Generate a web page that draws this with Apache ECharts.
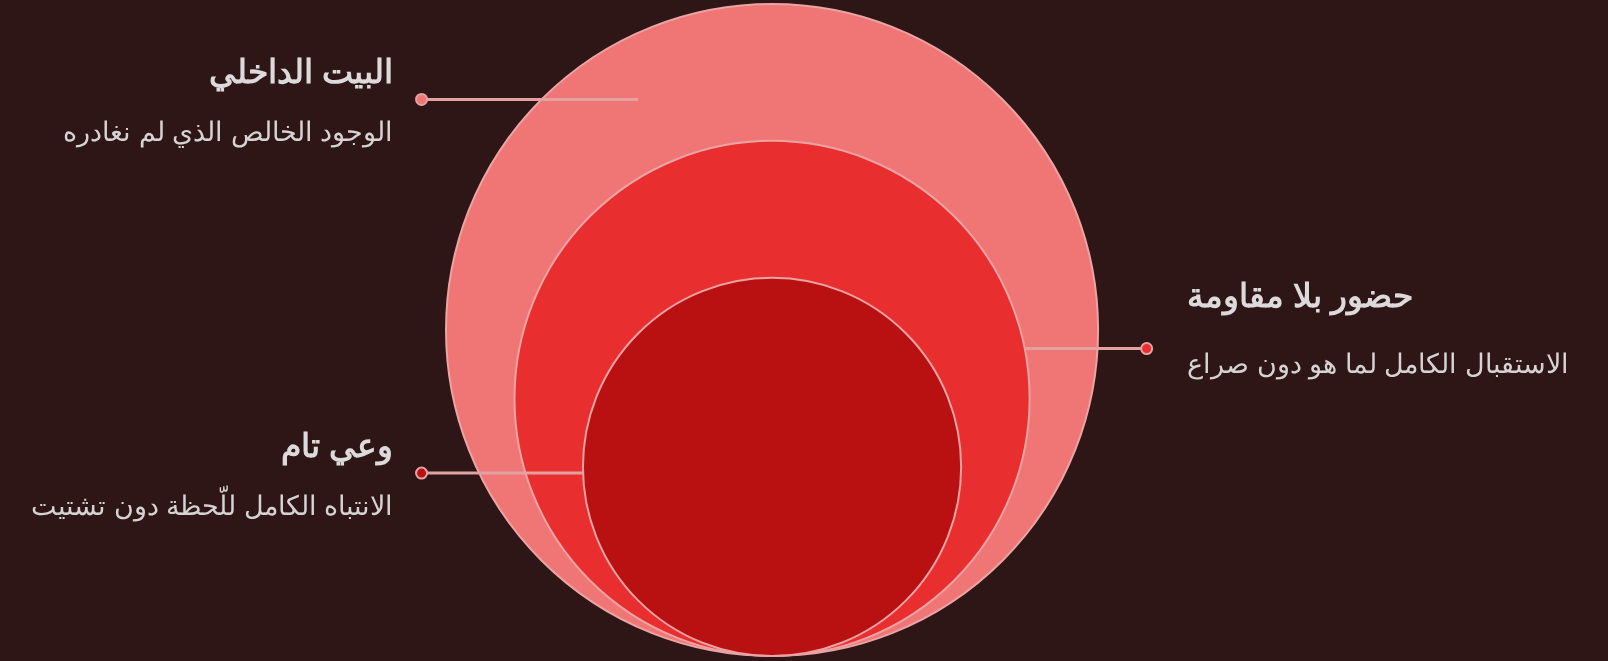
<!DOCTYPE html>
<html><head><meta charset="utf-8">
<script src="https://cdn.jsdelivr.net/npm/echarts@6/dist/echarts.min.js"></script>
<style>html,body{margin:0;padding:0;background:#2e1617;}#c{width:1608px;height:661px;}</style>
</head><body><div id="c"></div>
<script>
// Data
const names = ['البيت الداخلي', 'حضور بلا مقاومة', 'وعي تام'];
const descriptions = ['الوجود الخالص الذي لم نغادره', 'الاستقبال الكامل لما هو دون صراع', 'الانتباه الكامل للّحظة دون تشتيت'];
const sizes = [100, 79, 58];

// Styles / layout
const palette = ['#f07676', '#e92e30', '#b91011'];
const ringStroke = '#eba3a3';
const lineColor = '#e3a2a2';
// label layout in data units: line y, line end x (null = circle edge), dot x, side
const labelLayout = [
  {y: 170.7, lineEnd: -41.1, dotX: -107.5, side: 'left', titleDy: -25.5, subDy: 34.5},
  {y: 94.3, lineEnd: null, dotX: 114.9, side: 'right', titleDy: -50.5, subDy: 17.5},
  {y: 56.1, lineEnd: null, dotX: -107.5, side: 'left', titleDy: -25, subDy: 34.6}
];

const chart = echarts.init(document.getElementById('c'), null, {renderer: 'canvas'});
const circleData = sizes.map((v, i) => ({name: names[i], value: [v]}));

chart.setOption({
  backgroundColor: '#2e1617',
  animation: false,
  grid: {left: 0, right: 0, top: 0, bottom: 0},
  xAxis: {type: 'value', min: -236.8, max: 256.4, show: false},
  yAxis: {type: 'value', min: -1.53, max: 201.2, show: false},
  series: [
    {
      type: 'custom',
      z: 1,
      data: circleData,
      renderItem: function (params, api) {
        const v = api.value(0);
        const c = api.coord([0, v]);
        const r = api.size([v, 0])[0];
        return {
          type: 'circle',
          shape: {cx: c[0], cy: c[1], r: r},
          style: {fill: palette[params.dataIndex], stroke: ringStroke, lineWidth: 2}
        };
      }
    },
    {
      type: 'custom',
      z: 5,
      data: circleData,
      renderItem: function (params, api) {
        const i = params.dataIndex;
        const v = api.value(0);
        const L = labelLayout[i];
        let endX = L.lineEnd;
        if (endX === null) {
          const dy = L.y - v;
          const dx = Math.sqrt(Math.max(0, v * v - dy * dy));
          endX = L.side === 'left' ? -dx : dx;
        }
        const p1 = api.coord([endX, L.y]);
        const p2 = api.coord([L.dotX, L.y]);
        const left = L.side === 'left';
        const tx = left ? p2[0] - 28.5 : p2[0] + 40.5;
        const align = left ? 'right' : 'left';
        return {
          type: 'group',
          children: [
            {type: 'line', shape: {x1: p1[0], y1: p1[1], x2: p2[0], y2: p2[1]},
             style: {stroke: lineColor, lineWidth: 3}},
            {type: 'circle', shape: {cx: p2[0], cy: p2[1], r: 5.5},
             style: {fill: palette[i], stroke: lineColor, lineWidth: 2}},
            {type: 'text', x: tx, y: p2[1] + L.titleDy,
             style: {text: names[i], fill: '#dcdada', font: 'bold 33px sans-serif', align: align, verticalAlign: 'middle'}},
            {type: 'text', x: tx, y: p2[1] + L.subDy,
             style: {text: descriptions[i], fill: '#d6d3d3', font: '27px sans-serif', align: align, verticalAlign: 'middle'}}
          ]
        };
      }
    }
  ]
});
</script>
</body></html>
